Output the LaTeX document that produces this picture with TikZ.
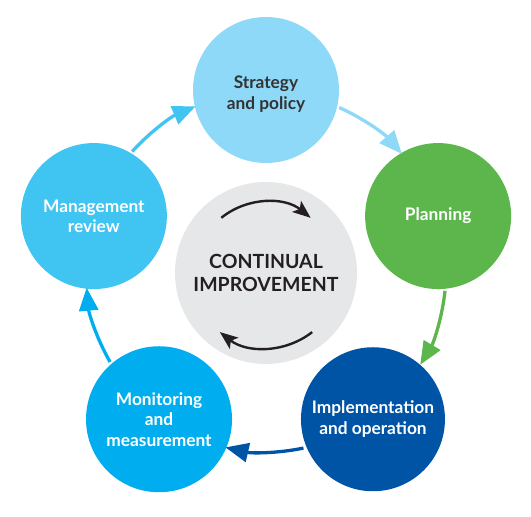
\documentclass[tikz,border=0pt]{standalone}
\usepackage{fontspec}
\setmainfont{Lato}
\usetikzlibrary{arrows.meta}
\definecolor{cStrat}{HTML}{8ED8F8}
\definecolor{cPlan}{HTML}{5DB64B}
\definecolor{cImpl}{HTML}{0054A6}
\definecolor{cMon}{HTML}{00AEEF}
\definecolor{cMan}{HTML}{40C4F2}
\definecolor{cGray}{HTML}{E6E7E8}
\definecolor{cDark}{HTML}{333333}
\definecolor{cBlack}{HTML}{231F20}
\tikzset{
  phase/.style={circle, inner sep=0pt, minimum size=146pt, draw=none, align=center,
    text=white, font=\bfseries\fontsize{17.3}{20.5}\selectfont},
  phasetext/.style={inner sep=0pt, align=center, font=\bfseries\fontsize{17.3}{20.5}\selectfont},
  cycarrow/.style={line width=3.3pt, -{Triangle[length=23pt,width=19pt]}},
  innerarrow/.style={line width=2.4pt, color=cBlack, -{Stealth[length=18pt,width=14pt,inset=4pt]}}
}
\begin{document}
\begin{tikzpicture}[x=1pt,y=1pt]
\useasboundingbox (0,0) rectangle (531,517);
\begin{scope}[shift={(266,245)}]
  \node[circle, inner sep=0pt, minimum size=182pt, fill=cGray, align=center,
        text=cBlack, font=\bfseries\fontsize{19.5}{23}\selectfont] (ci) at (0,-1) {CONTINUAL\\IMPROVEMENT};
  \node[phase, fill=cStrat] (s) at (90:182) {};
  \node[phasetext, text=cDark] (st) at ([yshift=-4pt]s.center) {Strategy\\and policy};
  \node[phase, fill=cPlan] (p) at (18:181) {Planning};
  \node[phase, fill=cImpl, minimum size=144pt] (i) at (-54:182) {Implementation\\and operation};
  \node[phase, fill=cMon] (m) at (-126:182) {Monitoring\\and\\measurement};
  \node[phase, fill=cMan] (r) at (162:181) {Management\\review};
  % connector end points on the node boundaries, along the cycle circle
  \coordinate (s-out) at (66:180);   \coordinate (p-in) at (41:180);
  \coordinate (p-out) at (-6:180);   \coordinate (i-in) at (-31:180);
  \coordinate (i-out) at (-78:180);  \coordinate (m-in) at (-103:180);
  \coordinate (m-out) at (-150:180); \coordinate (r-in) at (-175:180);
  \coordinate (r-out) at (138:180);  \coordinate (s-in) at (113:180);
  \draw[cycarrow, color=cStrat] (s-out) arc[start angle=66, end angle=41, radius=180];
  \draw[cycarrow, color=cPlan] (p-out) arc[start angle=-6, end angle=-31, radius=180];
  \draw[cycarrow, color=cImpl] (i-out) arc[start angle=-78, end angle=-103, radius=180];
  \draw[cycarrow, color=cMon] (m-out) arc[start angle=-150, end angle=-175, radius=180];
  \draw[cycarrow, color=cMan] (r-out) arc[start angle=138, end angle=113, radius=180];
  \draw[innerarrow] ([shift={(129:71)}]ci.center) arc[start angle=129, end angle=51, radius=71];
  \draw[innerarrow] ([shift={(-52:75)}]ci.center) arc[start angle=-52, end angle=-128, radius=75];
\end{scope}
\end{tikzpicture}
\end{document}
